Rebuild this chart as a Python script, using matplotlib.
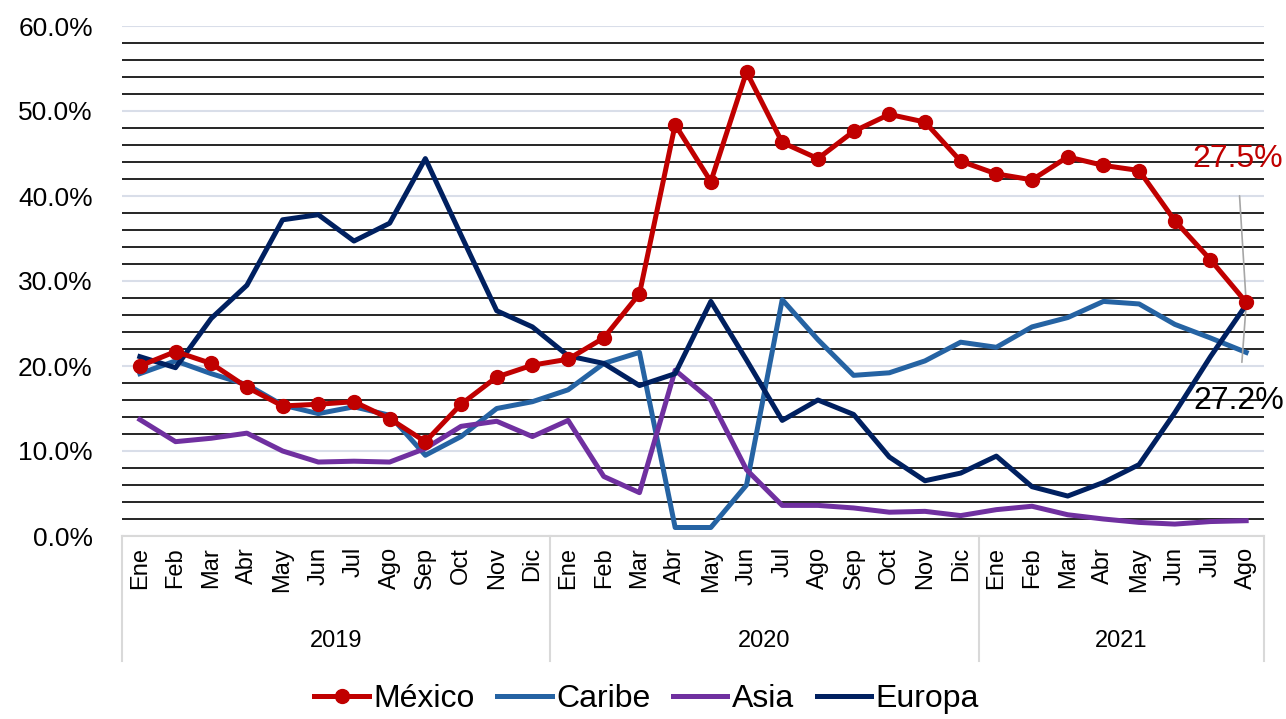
import matplotlib
matplotlib.use("Agg")
import matplotlib.pyplot as plt
from matplotlib.ticker import MultipleLocator, PercentFormatter
import matplotlib.transforms as mtransforms

plt.rcParams['font.family'] = ['Liberation Sans', 'DejaVu Sans']

# datos
meses = ['Ene', 'Feb', 'Mar', 'Abr', 'May', 'Jun', 'Jul', 'Ago', 'Sep', 'Oct', 'Nov', 'Dic']
anios = ['2019', '2020', '2021']
etiquetas = meses + meses + meses[:8]

mexico = [20.0, 21.7, 20.3, 17.5, 15.3, 15.5, 15.8, 13.8, 11.1, 15.5, 18.7, 20.1,
          20.8, 23.3, 28.5, 48.4, 41.7, 54.6, 46.3, 44.4, 47.6, 49.6, 48.7, 44.1,
          42.6, 41.9, 44.6, 43.6, 43.0, 37.1, 32.5, 27.5]
caribe = [19.1, 20.6, 19.1, 17.8, 15.4, 14.4, 15.2, 14.2, 9.5, 11.7, 15.0, 15.8,
          17.2, 20.3, 21.6, 1.0, 1.0, 6.0, 27.8, 23.1, 18.9, 19.2, 20.6, 22.8,
          22.2, 24.6, 25.7, 27.6, 27.3, 24.9, 23.3, 21.6]
asia = [13.7, 11.1, 11.5, 12.1, 10.0, 8.7, 8.8, 8.7, 10.3, 12.9, 13.5, 11.7,
        13.6, 7.0, 5.1, 19.5, 16.0, 7.8, 3.6, 3.6, 3.3, 2.8, 2.9, 2.4,
        3.1, 3.5, 2.5, 2.0, 1.6, 1.4, 1.7, 1.8]
europa = [21.1, 19.8, 25.6, 29.5, 37.2, 37.8, 34.7, 36.8, 44.4, 35.4, 26.5, 24.6,
          21.2, 20.3, 17.7, 19.1, 27.6, 20.7, 13.6, 16.0, 14.3, 9.3, 6.5, 7.4,
          9.4, 5.8, 4.7, 6.3, 8.4, 14.5, 21.1, 27.2]

x = list(range(len(etiquetas)))

fig = plt.figure(figsize=(12.86, 7.19), dpi=100)
ax = fig.add_axes([122/1286, 1 - 536/719, (1264 - 122)/1286, (536 - 26)/719])

# rejilla: mayores claras, menores negras
ax.set_ylim(0, 60)
ax.set_xlim(-0.5, len(x) - 0.5)
ax.yaxis.set_major_locator(MultipleLocator(10))
ax.yaxis.set_minor_locator(MultipleLocator(2))
ax.yaxis.set_major_formatter(PercentFormatter(decimals=1))
ax.grid(True, axis='y', which='major', color='#d9dee9', lw=1.5)
ax.grid(True, axis='y', which='minor', color='black', lw=1.2)
ax.set_axisbelow(True)

ax.plot(x, mexico, color='#c00000', lw=3.6, marker='o', ms=10, label='México', zorder=5)
ax.plot(x, caribe, color='#2563a3', lw=3.6, label='Caribe', zorder=3)
ax.plot(x, asia, color='#7030a0', lw=3.6, label='Asia', zorder=3)
ax.plot(x, europa, color='#002060', lw=3.6, label='Europa', zorder=4)

for s in ['top', 'right', 'left']:
    ax.spines[s].set_visible(False)
ax.spines['bottom'].set_color('#d9d9d9')
ax.spines['bottom'].set_linewidth(1.5)

ax.tick_params(axis='y', which='both', length=0, labelsize=19, pad=21)
ax.set_xticks(x)
ax.set_xticklabels(etiquetas, rotation=90, fontsize=17)
ax.tick_params(axis='x', length=0, pad=8)

# eje de categorias de dos niveles
trans = mtransforms.blended_transform_factory(ax.transData, ax.transAxes)
for sep in [-0.5, 11.5, 23.5, len(x) - 0.5]:
    ax.plot([sep, sep], [0, -0.245], transform=trans, color='#d9d9d9', lw=1.5, clip_on=False)
centros = [5.5, 17.5, 27.5]
for c, a in zip(centros, anios):
    ax.text(c, -0.205, a, transform=trans, ha='center', va='center', fontsize=17)

# etiquetas del ultimo dato
ax.annotate('27.5%', xy=(x[-1], mexico[-1]), xytext=(x[-1] - 0.25, 44.4),
            color='#c00000', fontsize=23, ha='center', va='center',
            arrowprops=dict(arrowstyle='-', color='#a6a6a6', lw=1.2, shrinkA=14, shrinkB=0))
ax.annotate('27.2%', xy=(x[-1], europa[-1]), xytext=(x[-1] - 0.2, 15.9),
            color='black', fontsize=23, ha='center', va='center',
            arrowprops=dict(arrowstyle='-', color='#a6a6a6', lw=1.2, shrinkA=15, shrinkB=0))

fig.legend(loc='center', bbox_to_anchor=(0.503, 0.028), ncol=4, frameon=False,
           fontsize=23, handlelength=1.7, handletextpad=0.15, columnspacing=0.7)

fig.savefig('out.png', dpi=100)
